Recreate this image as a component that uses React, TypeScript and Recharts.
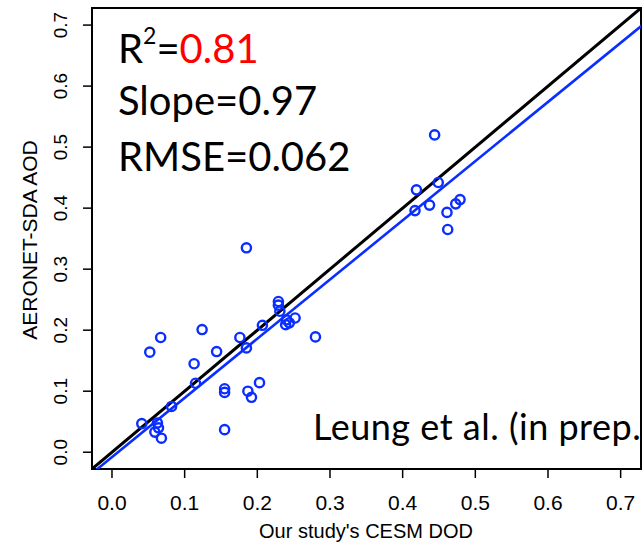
import {
  ReferenceArea,
  ReferenceLine,
  Scatter,
  ScatterChart,
  XAxis,
  YAxis,
} from "recharts";

// CESM dust optical depth (x) vs AERONET-SDA coarse AOD (y), one entry per site
const cesmDod = [
  0.041, 0.052, 0.067, 0.124, 0.113, 0.115, 0.082, 0.144, 0.176, 0.185,
  0.155, 0.155, 0.187, 0.192, 0.203, 0.155, 0.207, 0.229, 0.229, 0.231,
  0.24, 0.239, 0.244, 0.252, 0.28, 0.059, 0.0625, 0.064, 0.068, 0.185,
  0.444, 0.449, 0.419, 0.417, 0.437, 0.461, 0.473, 0.479, 0.462,
];
const aeronetAod = [
  0.047, 0.164, 0.188, 0.201, 0.145, 0.113, 0.075, 0.165, 0.188, 0.171,
  0.104, 0.098, 0.1, 0.09, 0.114, 0.037, 0.208, 0.247, 0.241, 0.231,
  0.217, 0.209, 0.212, 0.22, 0.189, 0.033, 0.048, 0.04, 0.023, 0.335,
  0.52, 0.442, 0.43, 0.396, 0.405, 0.393, 0.407, 0.414, 0.365,
];
const ticks = [0, 0.1, 0.2, 0.3, 0.4, 0.5, 0.6, 0.7];
const domain: [number, number] = [-0.0275, 0.728];

const fitSlope = 0.97;
const fitIntercept = -0.008;

const statLabels = ["R", "Slope=0.97", "RMSE=0.062"];
const rSquared = "0.81";
const credit = "Leung et al. (in prep.)";

const BLUE = "#0a2eff";
const tickFont = "'Liberation Sans', Arial, sans-serif";
const noteFont = "Lato, 'Open Sans', sans-serif";

const points = cesmDod.map((x, i) => ({ x, y: aeronetAod[i] }));

function OpenCircle({ cx, cy }: { cx?: number; cy?: number }) {
  if (cx == null || cy == null) return null;
  return <circle cx={cx} cy={cy} r={4.6} fill="none" stroke={BLUE} strokeWidth={2.4} />;
}

function YTick({ x, y, payload }: any) {
  return (
    <text
      x={x}
      y={y}
      transform={`rotate(-90, ${x}, ${y})`}
      textAnchor="middle"
      fontFamily={tickFont}
      fontSize={19}
      fill="#000"
    >
      {payload.value.toFixed(1)}
    </text>
  );
}

export default function App() {
  return (
    <div style={{ position: "relative", width: 644, height: 544, background: "#fff" }}>
      <style>{`body{margin:0}`}</style>
      <ScatterChart
        width={644}
        height={544}
        margin={{ top: 8, right: 3, left: 0, bottom: 0 }}
      >
        <XAxis
          type="number"
          dataKey="x"
          domain={domain}
          ticks={ticks}
          allowDataOverflow
          axisLine={false}
          tickLine={{ stroke: "#000", strokeWidth: 1.5 }}
          tickSize={9}
          tickMargin={17}
          height={75}
          tick={{ fill: "#000", fontSize: 21, fontFamily: tickFont }}
          tickFormatter={(v: number) => v.toFixed(1)}
        />
        <YAxis
          type="number"
          dataKey="y"
          domain={domain}
          ticks={ticks}
          allowDataOverflow
          axisLine={false}
          tickLine={{ stroke: "#000", strokeWidth: 1.5 }}
          tickSize={9}
          tickMargin={16}
          width={92}
          tick={<YTick />}
        />
        <ReferenceLine
          segment={[
            { x: domain[0], y: domain[0] },
            { x: domain[1], y: domain[1] },
          ]}
          stroke="#000"
          strokeWidth={3}
          ifOverflow="hidden"
        />
        <ReferenceLine
          segment={[
            { x: -0.1, y: fitIntercept + fitSlope * -0.1 },
            { x: 0.8, y: fitIntercept + fitSlope * 0.8 },
          ]}
          stroke={BLUE}
          strokeWidth={2.6}
          ifOverflow="hidden"
        />
        <Scatter data={points} shape={<OpenCircle />} isAnimationActive={false} />
        <ReferenceArea
          x1={domain[0]}
          x2={domain[1]}
          y1={domain[0]}
          y2={domain[1]}
          fill="none"
          stroke="#000"
          strokeWidth={2}
          ifOverflow="visible"
        />
      </ScatterChart>
      <svg
        width={644}
        height={544}
        style={{ position: "absolute", left: 0, top: 0, pointerEvents: "none" }}
      >
        <defs>
          <clipPath id="plotClip">
            <rect x={92} y={8} width={548} height={461} />
          </clipPath>
        </defs>
        <text x={118} y={63} fontFamily={noteFont} fontSize={40} fill="#000">
          {statLabels[0]}
          <tspan fontSize={23} dy={-19}>2</tspan>
          <tspan dy={19}>=</tspan>
          <tspan fill="#ff0000">{rSquared}</tspan>
        </text>
        <text x={118} y={115} fontFamily={noteFont} fontSize={40} fill="#000">
          {statLabels[1]}
        </text>
        <text x={118} y={171} fontFamily={noteFont} fontSize={40} fill="#000">
          {statLabels[2]}
        </text>
        <text
          x={313}
          y={440}
          fontFamily={noteFont}
          fontSize={36}
          letterSpacing={0.5}
          fill="#000"
          clipPath="url(#plotClip)"
        >
          {credit}
        </text>
        <text
          x={366}
          y={538}
          textAnchor="middle"
          fontFamily={tickFont}
          fontSize={20}
          fill="#000"
        >
          Our study's CESM DOD
        </text>
        <text
          x={37}
          y={240}
          transform="rotate(-90, 37, 240)"
          textAnchor="middle"
          fontFamily={tickFont}
          fontSize={21}
          fill="#000"
        >
          AERONET-SDA AOD
        </text>
      </svg>
    </div>
  );
}
